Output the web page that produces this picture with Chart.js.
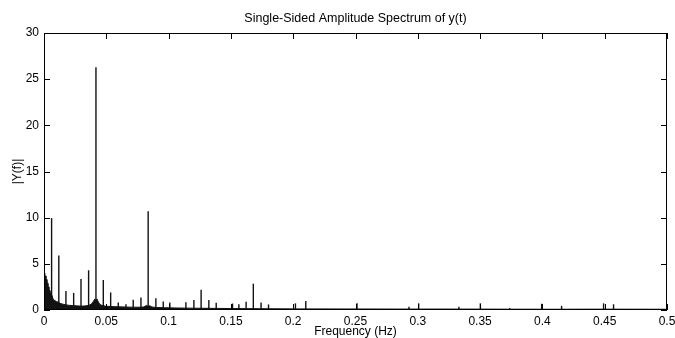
<!DOCTYPE html>
<html>
<head>
<meta charset="utf-8">
<script src="https://cdn.jsdelivr.net/npm/chart.js@4/dist/chart.umd.min.js"></script>
<style>
  html, body { margin: 0; padding: 0; background: #fff; }
  #wrap { width: 675px; height: 338px; position: relative; }
</style>
</head>
<body>
<div id="wrap"><canvas id="c" width="675" height="338"></canvas></div>
<script>
// ---- data ----
const titleText = "Single-Sided Amplitude Spectrum of y(t)";
const xTitle = "Frequency (Hz)";
const yTitle = "|Y(f)|";

const xTickLabels = ["0", "0.05", "0.1", "0.15", "0.2", "0.25", "0.3", "0.35", "0.4", "0.45", "0.5"];
const yTickLabels = ["0", "5", "10", "15", "20", "25", "30"];

// background (noise floor) of the spectrum
const floorFreq = [0, 0.0004, 0.0008, 0.0012, 0.0016, 0.0020, 0.0024, 0.0028, 0.0032, 0.0036,
  0.0040, 0.0044, 0.0048, 0.0052, 0.0056, 0.0064, 0.0072, 0.0080, 0.0088, 0.0096,
  0.0104, 0.0112, 0.0120, 0.0128, 0.0144, 0.0160, 0.0176, 0.0192, 0.0208, 0.0233,
  0.0257, 0.0281, 0.0305, 0.0329, 0.0353, 0.0369, 0.0385, 0.0397, 0.0409, 0.0417,
  0.0425, 0.0437, 0.0449, 0.0465, 0.0489, 0.0529, 0.0569, 0.0610, 0.0650, 0.0690,
  0.0730, 0.0770, 0.0802, 0.0822, 0.0834, 0.0850, 0.0866, 0.0906, 0.0970, 0.1050,
  0.1171, 0.1331, 0.1492, 0.1732, 0.2053, 0.2454, 0.2855, 0.3256, 0.3657, 0.4058,
  0.4459, 0.5];
const floorAmp = [3.6, 4.0, 3.2, 3.7, 2.9, 3.3, 2.6, 2.9, 2.3, 2.5,
  2.0, 2.1, 1.7, 1.8, 1.5, 1.6, 1.2, 1.1, 1.0, 0.95,
  0.85, 0.9, 0.8, 0.72, 0.66, 0.6, 0.56, 0.52, 0.5, 0.47,
  0.45, 0.43, 0.42, 0.44, 0.48, 0.55, 0.7, 0.95, 1.2, 0.9,
  1.2, 0.85, 0.6, 0.5, 0.42, 0.38, 0.36, 0.34, 0.32, 0.31,
  0.3, 0.3, 0.33, 0.5, 0.4, 0.45, 0.32, 0.27, 0.25, 0.22,
  0.2, 0.18, 0.16, 0.14, 0.12, 0.11, 0.1, 0.1, 0.09, 0.08,
  0.09, 0.08];

// spectral lines (peaks)
const peakFreq = [0.0061, 0.0119, 0.0176, 0.0238, 0.0297, 0.0358, 0.0417, 0.0476, 0.0535, 0.0596,
  0.0658, 0.0716, 0.0778, 0.0836, 0.0898, 0.0957, 0.1010, 0.1139, 0.1203, 0.1261,
  0.1323, 0.1382, 0.1513, 0.1564, 0.1622, 0.1680, 0.1742, 0.1802, 0.2018, 0.2101,
  0.2512, 0.2929, 0.3007, 0.3330, 0.3502, 0.3737, 0.3994, 0.4154, 0.4491, 0.4571];
const peakAmp = [9.95, 5.9, 2.05, 1.85, 3.35, 4.3, 26.3, 3.25, 1.9, 0.8,
  0.62, 1.12, 1.35, 10.7, 1.28, 0.92, 0.8, 0.84, 1.08, 2.2,
  1.07, 0.78, 0.7, 0.63, 0.9, 2.85, 0.82, 0.6, 0.72, 0.98,
  0.72, 0.35, 0.72, 0.35, 0.72, 0.2, 0.68, 0.45, 0.72, 0.62];

// ---- build chart ----
const floorPts = floorFreq.map((f, i) => ({ x: f, y: floorAmp[i] }));
const peakPts = peakFreq.map((f, i) => ({ x: f, y: peakAmp[i] }));

const FONT = "'Liberation Sans', Arial, Helvetica, sans-serif";
const INK = '#111';

const matlabFrame = {
  id: 'matlabFrame',
  afterDraw(chart) {
    const { ctx, chartArea: a, scales: { x, y } } = chart;
    const L = 6;
    ctx.save();
    ctx.strokeStyle = '#000';
    ctx.lineWidth = 1;
    ctx.beginPath();
    ctx.rect(Math.round(a.left) + 0.5, Math.round(a.top) + 0.5,
             Math.round(a.right - a.left) - 1, Math.round(a.bottom - a.top) - 1);
    x.ticks.forEach(t => {
      const p = Math.round(x.getPixelForValue(t.value)) + 0.5;
      ctx.moveTo(p, a.bottom); ctx.lineTo(p, a.bottom - L);
      ctx.moveTo(p, a.top); ctx.lineTo(p, a.top + L);
    });
    y.ticks.forEach(t => {
      const p = Math.round(y.getPixelForValue(t.value)) + 0.5;
      ctx.moveTo(a.left, p); ctx.lineTo(a.left + L, p);
      ctx.moveTo(a.right, p); ctx.lineTo(a.right - L, p);
    });
    ctx.stroke();
    ctx.restore();
  }
};

new Chart(document.getElementById('c'), {
  type: 'bar',
  data: {
    datasets: [
      {
        type: 'line',
        label: 'floor',
        data: floorPts,
        borderColor: INK,
        backgroundColor: INK,
        borderWidth: 1,
        pointRadius: 0,
        tension: 0,
        fill: 'origin',
        xAxisID: 'x', yAxisID: 'y'
      },
      {
        type: 'bar',
        label: 'peaks',
        data: peakPts,
        backgroundColor: INK,
        borderWidth: 0,
        inflateAmount: 0,
        barThickness: 1.4,
        xAxisID: 'x', yAxisID: 'y'
      }
    ]
  },
  options: {
    responsive: false,
    animation: false,
    devicePixelRatio: 1,
    layout: { autoPadding: false, padding: { left: 0, right: 8, top: 0, bottom: 0 } },
    plugins: { legend: { display: false }, tooltip: { enabled: false }, title: { display: false } },
    scales: {
      x: {
        type: 'linear', position: 'bottom', min: 0, max: 0.5, offset: false,
        grid: { display: false, drawTicks: false, offset: false },
        border: { display: false },
        ticks: {
          stepSize: 0.05, padding: 4, color: '#000', maxRotation: 0, autoSkip: false,
          font: { family: FONT, size: 12 },
          callback: (v, i) => xTickLabels[i]
        },
        title: { display: true, text: xTitle, color: '#000', padding: { top: 0, bottom: -0.8 },
                 font: { family: FONT, size: 12 } },
        afterFit: s => { s.height = 28; s.paddingLeft = 0; s.paddingRight = 0; }
      },
      x2: {
        type: 'linear', position: 'top', min: 0, max: 0.5, display: true,
        grid: { display: false, drawTicks: false },
        border: { display: false },
        ticks: { display: false },
        title: { display: true, text: titleText, color: '#000', padding: { top: 11.5, bottom: 0 },
                 font: { family: FONT, size: 12.5 } },
        afterFit: s => { s.height = 33; s.paddingLeft = 0; s.paddingRight = 0; }
      },
      y: {
        type: 'linear', position: 'left', min: 0, max: 30,
        grid: { display: false, drawTicks: false },
        border: { display: false },
        ticks: {
          stepSize: 5, padding: 5, color: '#000',
          font: { family: FONT, size: 12 },
          callback: (v, i) => yTickLabels[i]
        },
        title: { display: true, text: yTitle, color: '#000', padding: { top: 10.5, bottom: 0 },
                 font: { family: FONT, size: 12 } },
        afterFit: s => { s.width = 44; s.paddingTop = 0; s.paddingBottom = 0; }
      }
    }
  },
  plugins: [matlabFrame]
});
</script>
</body>
</html>
